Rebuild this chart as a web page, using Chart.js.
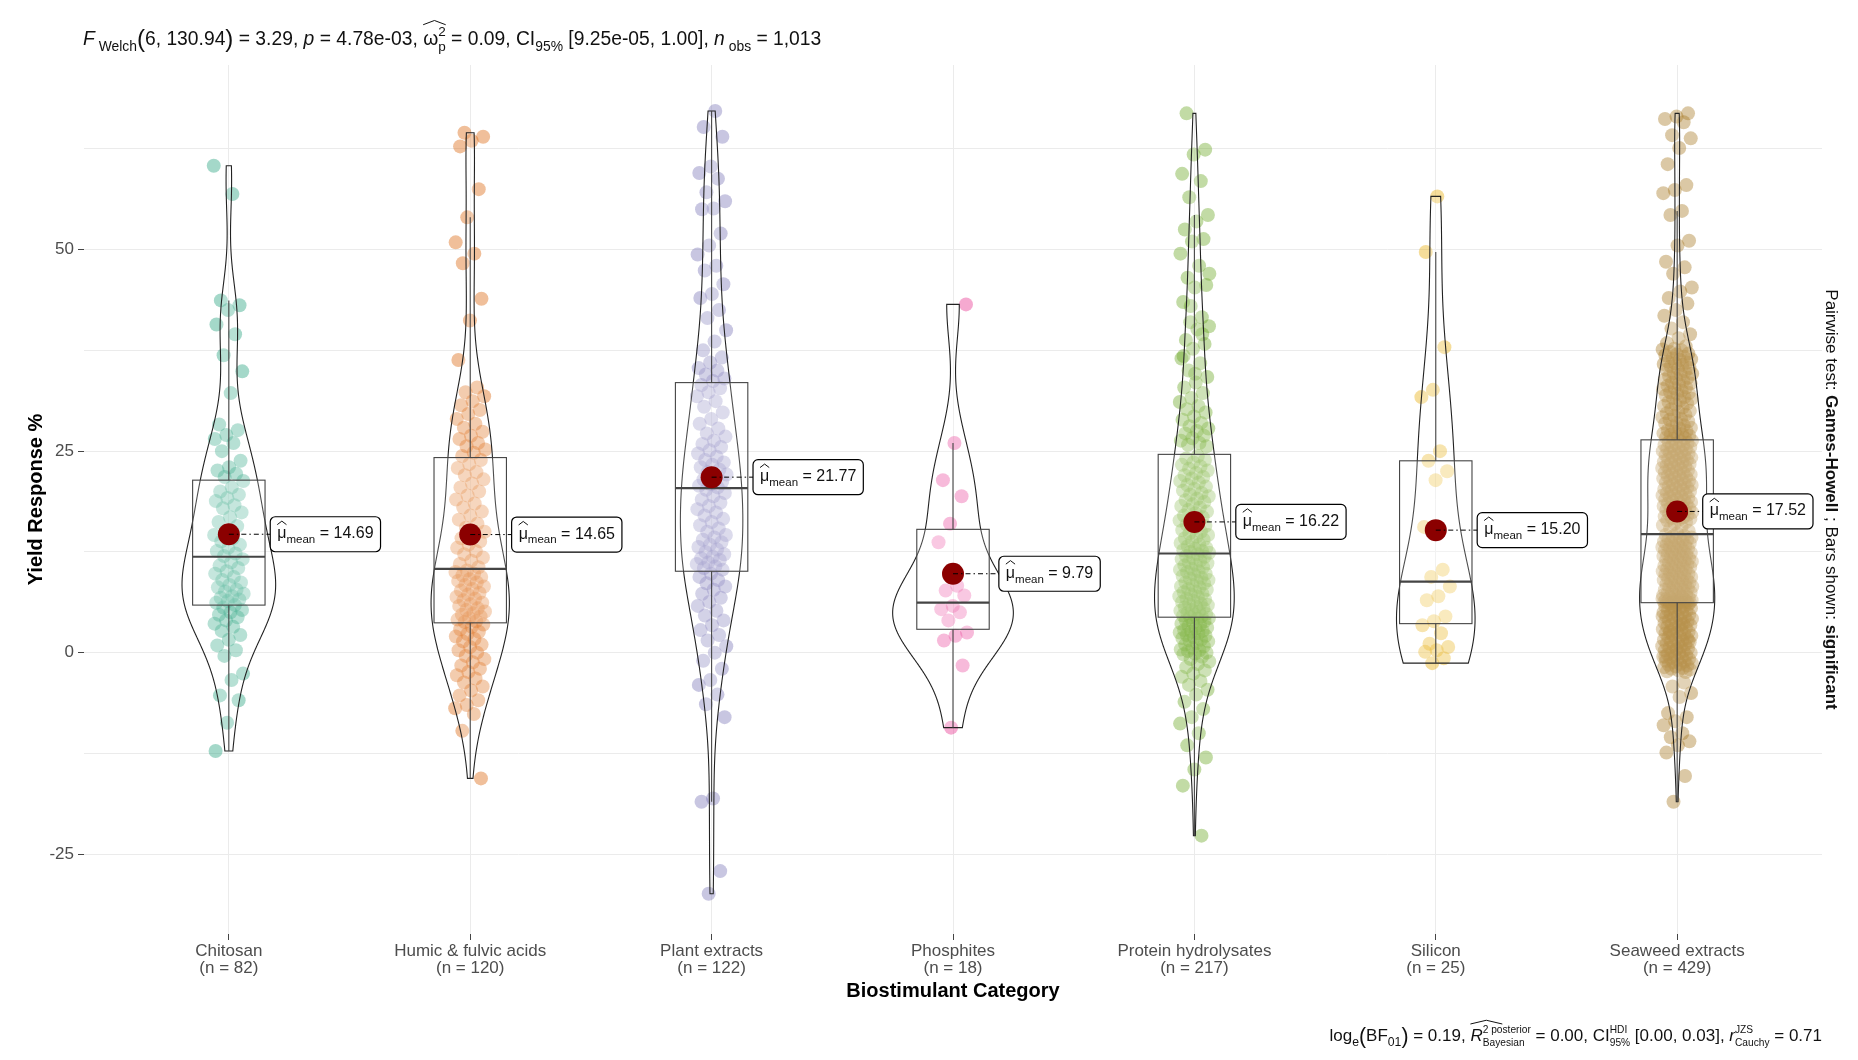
<!DOCTYPE html>
<html>
<head>
<meta charset="utf-8">
<script src="https://cdn.jsdelivr.net/npm/chart.js@4.4.1/dist/chart.umd.min.js"></script>
<style>
  html, body { margin: 0; background: #fff; }
  #wrap { width: 1858px; height: 1060px; }
</style>
</head>
<body>
<div id="wrap"><canvas id="chart" width="1858" height="1060"></canvas></div>
<script>
// categories and group sizes
const categories = ['Chitosan', 'Humic & fulvic acids', 'Plant extracts', 'Phosphites',
                    'Protein hydrolysates', 'Silicon', 'Seaweed extracts'];
const counts = [82, 120, 122, 18, 217, 25, 429];
const means = [14.69, 14.65, 21.77, 9.79, 16.22, 15.20, 17.52];

// box statistics
const q1s = [5.9, 3.7, 10.1, 2.9, 4.4, 3.6, 6.2];
const medians = [11.9, 10.4, 20.4, 6.2, 12.3, 8.8, 14.7];
const q3s = [21.4, 24.2, 33.5, 15.3, 24.6, 23.8, 26.4];
const whiskerLow = [-12.2, -15.6, -18.5, -9.3, -22.7, -1.3, -18.5];
const whiskerHigh = [43.7, 54.0, 67.2, 26.0, 54.3, 49.7, 54.8];

const yTicks = [-25, -12.5, 0, 12.5, 25, 37.5, 50, 62.5];

// observations per group (estimated from the jittered points)
const chitosan = [60.4, 56.9, 43.7, 43.1, 42.5, 40.7, 39.5, 36.9, 34.9, 32.2, 28.3, 27.6, 27.0, 26.5, 26.0, 25.0,
  23.8, 23.0, 22.6, 22.2, 21.8, 21.3, 20.5, 20.0, 19.6, 19.2, 18.8, 18.3, 17.9, 17.4, 16.8, 16.2, 15.7, 15.1,
  14.6, 14.2, 13.8, 13.4, 13.0, 12.6, 12.3, 12.0, 11.6, 11.2, 10.8, 10.5, 10.1, 9.8, 9.4, 9.0, 8.7, 8.4, 8.1,
  7.8, 7.6, 7.3, 7.0, 6.8, 6.6, 6.4, 6.2, 5.9, 5.6, 5.3, 5.0, 4.7, 4.4, 4.0, 3.6, 3.2, 2.7, 2.2, 1.6, 0.9, 0.3,
  -0.4, -2.6, -3.4, -5.3, -5.9, -8.7, -12.2];

const humic = [64.5, 64.0, 63.5, 62.8, 57.5, 54.0, 50.9, 49.5, 48.3, 43.9, 41.2, 36.3, 32.9, 32.3, 31.8, 31.2,
  30.7, 30.1, 29.6, 29.0, 28.4, 27.9, 27.4, 26.9, 26.5, 26.0, 25.6, 25.2, 24.8, 24.4,
  23.9, 23.4, 22.9, 22.4, 22.0, 21.5, 21.0, 20.5, 20.0, 19.5, 19.0, 18.5, 18.0, 17.5, 17.0, 16.5, 16.0, 15.5,
  15.0, 14.6, 14.2, 13.8, 13.4, 13.0, 12.6, 12.2, 11.8, 11.4, 11.0, 10.6,
  10.2, 10.0, 9.8, 9.6, 9.4, 9.1, 8.9, 8.7, 8.4, 8.2, 7.9, 7.7, 7.4, 7.2, 6.9, 6.7, 6.5, 6.2, 6.0, 5.8, 5.5,
  5.3, 5.1, 4.9, 4.7, 4.5, 4.3, 4.1, 3.9, 3.8,
  3.5, 3.2, 2.9, 2.6, 2.3, 2.0, 1.7, 1.4, 1.0, 0.7, 0.3, 0.0, -0.4, -0.8, -1.2, -1.6, -2.0, -2.4, -2.8, -3.2,
  -3.7, -4.2, -4.7, -5.3, -5.9, -6.5, -6.9, -7.6, -9.7, -15.6];

const plant = [67.2, 65.2, 64.0, 60.3, 59.5, 58.8, 57.1, 56.0, 55.1, 55.0, 52.0, 50.5, 49.4, 48.0, 47.4, 45.7,
  44.5, 44.0, 42.5, 41.5, 40.0, 38.6, 37.5, 36.6, 36.0, 35.3, 35.0, 34.5, 34.0, 33.7,
  33.2, 32.8, 32.3, 31.8, 31.2, 30.5, 29.8, 29.0, 28.4, 27.8, 27.2, 26.8, 26.3, 25.9, 25.5, 25.1, 24.7, 24.3,
  23.9, 23.6, 23.3, 23.0, 22.7, 22.4, 22.1, 21.8, 21.5, 21.2, 20.9, 20.7, 20.5,
  20.2, 19.8, 19.4, 19.0, 18.6, 18.2, 17.8, 17.4, 17.0, 16.6, 16.2, 15.8, 15.4, 15.0, 14.6, 14.3, 14.0, 13.7,
  13.4, 13.1, 12.8, 12.5, 12.2, 11.9, 11.7, 11.5, 11.2, 11.0, 10.7, 10.5, 10.3,
  9.8, 9.4, 9.0, 8.6, 8.2, 7.8, 7.3, 6.8, 6.3, 5.8, 5.2, 4.6, 4.0, 3.4, 2.8, 2.2, 1.5, 0.8, 0.0, -1.0, -2.0,
  -3.4, -4.0, -5.2, -6.4, -8.0, -18.1, -18.5, -27.1, -29.9];

const phosphites = [43.2, 26.0, 21.4, 19.4, 16.0, 13.7, 8.3, 7.7, 7.1, 5.8, 5.4, 5.0, 4.0, 2.5, 2.1, 1.5, -1.6, -9.3];

const protein = [66.9, 62.4, 61.8, 59.4, 58.5, 56.5, 54.3, 53.5, 52.5, 51.3, 51.0, 49.5, 48.0, 46.5, 45.6, 45.3,
  43.5, 41.6, 41.0, 40.5, 40.1, 38.8, 38.3, 37.7, 36.5, 35.9, 35.0, 34.2, 33.5, 32.9, 32.2, 31.6, 31.1, 30.6,
  30.2, 29.8, 29.3, 28.9, 28.5, 28.1, 27.8, 27.5, 27.2, 26.9, 26.6, 26.3, 26.0, 25.8, 25.6, 34.6, 36.8, 39.5,
  43.0, 47.0,
  24.4, 24.1, 23.9, 23.6, 23.3, 23.1, 22.8, 22.6, 22.3, 22.0, 21.8, 21.6, 21.3, 21.1, 20.8, 20.6, 20.3, 20.1,
  19.8, 19.6, 19.4, 19.1, 18.9, 18.7, 18.4, 18.2, 18.0, 17.7, 17.5, 17.3, 17.0, 16.8, 16.6, 16.4, 16.1, 15.9,
  15.7, 15.5, 15.2, 15.0, 14.8, 14.6, 14.4, 14.2, 14.0, 13.8, 13.6, 13.4, 13.2, 13.0, 12.9, 12.7, 12.6, 12.5, 12.4,
  12.2, 12.0, 11.9, 11.7, 11.6, 11.4, 11.2, 11.1, 10.9, 10.8, 10.6, 10.4, 10.3, 10.1, 10.0, 9.8, 9.7, 9.5,
  9.3, 9.2, 9.0, 8.9, 8.7, 8.6, 8.4, 8.2, 8.1, 7.9, 7.8, 7.6, 7.5, 7.3, 7.2, 7.0, 6.9, 6.7, 6.6, 6.4, 6.3, 6.1,
  6.0, 5.9, 5.7, 5.6, 5.5, 5.3, 5.2, 5.1, 4.9, 4.8, 4.7, 4.6, 4.5, 4.4,
  4.3, 4.2, 4.0, 3.9, 3.7, 3.6, 3.4, 3.3, 3.1, 3.0, 2.8, 2.7, 2.6, 2.5, 2.4, 2.2, 2.1, 1.9, 1.8, 1.6, 1.5,
  1.4, 1.2, 1.0, 0.8, 0.6, 0.4, 0.3, 0.2, 0.0, -0.1, -0.2, -0.5, -0.8, -1.1, -1.4, -1.8, -2.2, -2.6, -3.0,
  -3.5, -4.0, -4.6, -5.2, -6.1, -7.0, -8.0, -8.8, -10.0, -11.5, -13.0, -14.5, -16.5, -22.7];

const silicon = [56.6, 49.7, 37.9, 32.6, 31.7, 25.0, 23.8, 22.5, 21.4, 15.6, 10.3, 9.4, 8.2, 7.0, 6.5, 4.5, 3.9,
  3.4, 2.4, 1.1, 0.7, 0.3, 0.1, -0.7, -1.3];

const seaweed = [66.9, 66.5, 66.2, 65.8, 64.2, 63.8, 62.6, 60.6, 58.0, 57.4, 57.0, 54.8, 54.3, 51.1, 50.5, 48.5,
  47.8, 47.0, 45.3, 44.8, 44.0, 43.3, 42.5, 41.8, 41.0, 40.2, 39.5, 39.0, 38.4, 38.0,
  37.7, 37.6, 37.5, 37.3, 37.1, 37.0, 36.9, 36.7, 36.5, 36.4, 36.3, 36.1, 36.0, 35.9, 35.8, 35.7, 35.5, 35.3,
  35.2, 35.1, 34.9, 34.7, 34.6, 34.5, 34.3, 34.1, 34.0, 33.9, 33.7, 33.5, 33.4, 33.3, 33.1, 32.9, 32.8, 32.7,
  32.5, 32.3, 32.2, 32.1, 31.9, 31.7, 31.6, 31.5, 31.3, 31.1, 30.9, 30.8, 30.6, 30.4, 30.2, 30.0, 29.9, 29.7,
  29.5, 29.4, 29.2, 29.0, 28.9, 28.7, 28.5, 28.4, 28.2, 28.1, 27.9, 27.8, 27.6, 27.5, 27.4, 27.2, 27.1, 27.0,
  26.9, 26.8, 26.7, 26.6, 26.5,
  26.3, 26.2, 26.1, 26.0, 25.9, 25.8, 25.7, 25.6, 25.5, 25.4, 25.3, 25.2, 25.1, 25.0, 24.9, 24.8, 24.7, 24.6,
  24.5, 24.4, 24.3, 24.2, 24.1, 24.0, 23.9, 23.8, 23.7, 23.6, 23.5, 23.4, 23.3, 23.2, 23.1, 23.0, 22.9, 22.8,
  22.7, 22.6, 22.5, 22.4, 22.3, 22.2, 22.1, 22.0, 21.9, 21.8, 21.7, 21.6, 21.5, 21.4, 21.3, 21.2, 21.1, 21.0,
  20.9, 20.8, 20.7, 20.6, 20.5, 20.4, 20.3, 20.2, 20.1, 20.0, 19.9, 19.8, 19.7, 19.6, 19.5, 19.4, 19.3, 19.2,
  19.1, 19.0, 18.9, 18.8, 18.7, 18.6, 18.5, 18.4, 18.3, 18.2, 18.1, 18.0, 17.9, 17.8, 17.7, 17.6, 17.5, 17.4,
  17.3, 17.2, 17.1, 17.0, 16.9, 16.8, 16.7, 16.6, 16.5, 16.4, 16.2, 16.0, 15.8, 15.6, 15.4, 15.1, 14.8,
  14.6, 14.5, 14.4, 14.3, 14.2, 14.1, 14.0, 13.9, 13.8, 13.8, 13.7, 13.6, 13.5, 13.4, 13.3, 13.2, 13.1, 13.0,
  13.0, 12.9, 12.8, 12.7, 12.6, 12.5, 12.4, 12.3, 12.2, 12.2, 12.1, 12.0, 11.9, 11.8, 11.7, 11.6, 11.5, 11.4,
  11.4, 11.3, 11.2, 11.1, 11.0, 10.9, 10.8, 10.7, 10.6, 10.6, 10.5, 10.4, 10.3, 10.2, 10.1, 10.0, 9.9, 9.8,
  9.8, 9.7, 9.6, 9.5, 9.4, 9.3, 9.2, 9.1, 9.0, 9.0, 8.9, 8.8, 8.7, 8.6, 8.5, 8.4, 8.3, 8.2, 8.2, 8.1, 8.0,
  7.9, 7.8, 7.7, 7.6, 7.5, 7.4, 7.4, 7.3, 7.2, 7.1, 7.0, 6.9, 6.8, 6.7, 6.6, 6.6, 6.5, 6.5, 6.4, 6.4, 6.3,
  6.3, 6.3, 6.2, 6.2, 6.2, 6.2, 6.3, 6.4, 6.5, 6.7, 6.9,
  6.1, 6.0, 5.9, 5.8, 5.7, 5.6, 5.5, 5.4, 5.3, 5.2, 5.1, 5.0, 4.9, 4.8, 4.7, 4.6, 4.5, 4.4, 4.3, 4.2, 4.1,
  4.0, 3.9, 3.8, 3.7, 3.6, 3.5, 3.4, 3.3, 3.2, 3.1, 3.0, 2.9, 2.8, 2.7, 2.6, 2.5, 2.4, 2.3, 2.2, 2.1, 2.0,
  1.9, 1.8, 1.7, 1.6, 1.5, 1.4, 1.3, 1.2, 1.1, 1.0, 0.9, 0.8, 0.7, 0.6, 0.5, 0.4, 0.3, 0.2, 0.1, 0.0, -0.1,
  -0.2, -0.3, -0.4, -0.5, -0.6, -0.7, -0.8, -0.9, -1.0, -1.1, -1.2, -1.3, -1.4, -1.5, -1.6, -1.7, -1.8, -1.9,
  -2.0, -2.1, -2.2, -2.3, -2.4, 5.5, 4.5, 3.5, 2.5, 1.5, 0.5, -0.5,
  -3.7, -4.2, -5.0, -5.5, -7.5, -8.0, -8.5, -9.0, -10.0, -10.5, -11.0, -11.5, -12.4, -15.3, -18.5];

const groups = [chitosan, humic, plant, phosphites, protein, silicon, seaweed];
const colors = ['27,158,119', '217,95,2', '117,112,179', '231,41,138', '102,166,30', '230,171,2', '166,118,29'];

const FAM = "'Liberation Sans', Arial, sans-serif";

// ---------- helpers ----------
function quantile(sorted, p) {
    const h = (sorted.length - 1) * p;
    const lo = Math.floor(h);
    const hi = Math.min(lo + 1, sorted.length - 1);
    return sorted[lo] + (h - lo) * (sorted[hi] - sorted[lo]);
}

// R's bw.nrd0
function bandwidth(vals) {
    const s = [...vals].sort((a, b) => a - b);
    const n = s.length;
    const m = s.reduce((a, b) => a + b, 0) / n;
    const sd = Math.sqrt(s.reduce((a, b) => a + (b - m) ** 2, 0) / (n - 1));
    const iqr = quantile(s, 0.75) - quantile(s, 0.25);
    let lo = Math.min(sd, iqr / 1.34);
    if (!lo) lo = sd;
    return 0.9 * lo * Math.pow(n, -0.2);
}

// gaussian kernel density, trimmed to the data range
function densityCurve(vals) {
    const bw = bandwidth(vals);
    const min = Math.min(...vals), max = Math.max(...vals);
    const out = [];
    for (let i = 0; i < 512; i++) {
        const y = min + (max - min) * i / 511;
        let d = 0;
        for (const v of vals) {
            const z = (y - v) / bw;
            d += Math.exp(-0.5 * z * z);
        }
        out.push({ y, d: d / (vals.length * bw * Math.sqrt(2 * Math.PI)) });
    }
    return out;
}

const curves = groups.map(densityCurve);
const maxDensity = Math.max(...curves.map(c => Math.max(...c.map(p => p.d))));

// draws text runs with italics / sub- and superscripts / hats
function runParts(ctx, parts, x, y, size, draw) {
    let w = 0;
    for (const p of parts) {
        if (p.hat) {
            const iw = runParts(ctx, p.hat, x + w, y, size, draw);
            if (draw) {
                const span = iw * (p.wide || 1);
                const yb = y - size * p.h;
                ctx.beginPath();
                ctx.moveTo(x + w, yb);
                ctx.lineTo(x + w + span / 2, yb - size * 0.22);
                ctx.lineTo(x + w + span, yb);
                ctx.lineWidth = 1;
                ctx.strokeStyle = ctx.fillStyle;
                ctx.stroke();
            }
            w += iw;
            continue;
        }
        if (p.stack) {
            const s = size * (p.k || 0.7);
            ctx.font = s + 'px ' + FAM;
            const w1 = ctx.measureText(p.stack[0]).width;
            const w2 = ctx.measureText(p.stack[1]).width;
            if (draw) {
                ctx.fillText(p.stack[0], x + w, y - size * 0.45);
                ctx.fillText(p.stack[1], x + w, y + size * 0.32);
            }
            w += Math.max(w1, w2);
            continue;
        }
        let s = size, dy = 0;
        if (p.sub) { s = size * 0.72; dy = size * 0.3; }
        if (p.sup) { s = size * 0.72; dy = -size * 0.42; }
        if (p.big) { s = size * 1.25; dy = size * 0.1; }
        ctx.font = (p.it ? 'italic ' : '') + (p.b ? 'bold ' : '') + s + 'px ' + FAM;
        if (draw) ctx.fillText(p.t, x + w, y + dy);
        w += ctx.measureText(p.t).width;
    }
    return w;
}

const subtitleParts = [
    { t: 'F', it: 1 }, { t: ' Welch', sub: 1 }, { t: '(', big: 1 }, { t: '6, 130.94' }, { t: ')', big: 1 },
    { t: ' = 3.29, ' }, { t: 'p', it: 1 }, { t: ' = 4.78e-03, ' },
    { hat: [{ t: 'ω' }, { stack: ['2', 'p'] }], h: 1.05 },
    { t: ' = 0.09, CI' }, { t: '95%', sub: 1 }, { t: ' [9.25e-05, 1.00], ' },
    { t: 'n', it: 1 }, { t: ' obs', sub: 1 }, { t: ' = 1,013' }
];

const captionParts = [
    { t: 'log' }, { t: 'e', sub: 1 }, { t: '(', big: 1 }, { t: 'BF' }, { t: '01', sub: 1 }, { t: ')', big: 1 },
    { t: ' = 0.19, ' }, { hat: [{ t: 'R', it: 1 }], h: 1.0, wide: 2.6 },
    { stack: ['2 posterior', 'Bayesian'], k: 0.6 }, { t: ' = 0.00, CI' }, { stack: ['HDI', '95%'], k: 0.6 },
    { t: ' [0.00, 0.03], ' }, { t: 'r', it: 1 }, { stack: ['JZS', 'Cauchy'], k: 0.6 }, { t: ' = 0.71' }
];

const sideParts = [
    { t: 'Pairwise test: ' }, { t: 'Games-Howell', b: 1 }, { t: ' ; ' }, { t: 'Bars shown: ' }, { t: 'significant', b: 1 }
];

// ---------- plugin for violins, boxes, labels and extra texts ----------
const statsLayer = {
    id: 'statsLayer',
    beforeDatasetDraw(chart, args) {
        if (args.index !== groups.length) return;
        const { ctx, scales: { x, y } } = chart;
        ctx.save();
        groups.forEach((vals, i) => {
            const c = i + 1;
            // violin
            const curve = curves[i];
            ctx.beginPath();
            curve.forEach((p, k) => {
                const px = x.getPixelForValue(c + 0.25 * p.d / maxDensity);
                const py = y.getPixelForValue(p.y);
                k === 0 ? ctx.moveTo(px, py) : ctx.lineTo(px, py);
            });
            for (let k = curve.length - 1; k >= 0; k--) {
                const p = curve[k];
                ctx.lineTo(x.getPixelForValue(c - 0.25 * p.d / maxDensity), y.getPixelForValue(p.y));
            }
            ctx.closePath();
            ctx.fillStyle = 'rgba(255,255,255,0.2)';
            ctx.fill();
            ctx.strokeStyle = '#222';
            ctx.lineWidth = 1.1;
            ctx.stroke();

            // box + whiskers
            const xl = x.getPixelForValue(c - 0.15), xr = x.getPixelForValue(c + 0.15), xc = x.getPixelForValue(c);
            const yq1 = y.getPixelForValue(q1s[i]), yq3 = y.getPixelForValue(q3s[i]);
            ctx.strokeStyle = '#444';
            ctx.lineWidth = 1.1;
            ctx.beginPath();
            ctx.moveTo(xc, yq3); ctx.lineTo(xc, y.getPixelForValue(whiskerHigh[i]));
            ctx.moveTo(xc, yq1); ctx.lineTo(xc, y.getPixelForValue(whiskerLow[i]));
            ctx.stroke();
            ctx.fillStyle = 'rgba(255,255,255,0.2)';
            ctx.fillRect(xl, yq3, xr - xl, yq1 - yq3);
            ctx.strokeRect(xl, yq3, xr - xl, yq1 - yq3);
            ctx.lineWidth = 2.2;
            ctx.beginPath();
            ctx.moveTo(xl, y.getPixelForValue(medians[i]));
            ctx.lineTo(xr, y.getPixelForValue(medians[i]));
            ctx.stroke();
        });
        ctx.restore();
    },
    afterDatasetsDraw(chart) {
        const { ctx, scales: { x, y }, chartArea } = chart;
        ctx.save();
        ctx.textAlign = 'left';
        ctx.textBaseline = 'alphabetic';
        means.forEach((m, i) => {
            const parts = [{ hat: [{ t: 'μ' }], h: 0.85 }, { t: 'mean', sub: 1 }, { t: ' = ' + m.toFixed(2) }];
            const size = 16;
            ctx.fillStyle = '#111';
            const tw = runParts(ctx, parts, 0, 0, size, false);
            const bw = tw + 14, bh = 35;
            let bx = x.getPixelForValue(i + 1.4) - bw / 2;
            if (bx + bw > chartArea.right - 9) bx = chartArea.right - 9 - bw;
            const py = y.getPixelForValue(m);
            const px = x.getPixelForValue(i + 1);
            // leader
            ctx.strokeStyle = '#000';
            ctx.lineWidth = 1;
            ctx.setLineDash([5, 3, 1.5, 3]);
            ctx.beginPath();
            ctx.moveTo(px, py);
            ctx.lineTo(bx, py);
            ctx.stroke();
            ctx.setLineDash([]);
            // box
            ctx.beginPath();
            ctx.roundRect(bx, py - bh / 2, bw, bh, 5);
            ctx.fillStyle = '#fff';
            ctx.fill();
            ctx.strokeStyle = '#000';
            ctx.lineWidth = 1.2;
            ctx.stroke();
            ctx.fillStyle = '#111';
            runParts(ctx, parts, bx + 7, py + 4, size, true);
        });

        // subtitle
        ctx.fillStyle = '#111';
        runParts(ctx, subtitleParts, 83, 45, 19.3, true);

        // caption (right aligned to panel)
        const cw = runParts(ctx, captionParts, 0, 0, 17, false);
        runParts(ctx, captionParts, chartArea.right - cw, 1041, 17, true);

        // right-hand rotated note
        ctx.save();
        ctx.translate(1832, (chartArea.top + chartArea.bottom) / 2);
        ctx.rotate(Math.PI / 2);
        const sw = runParts(ctx, sideParts, 0, 0, 17, false);
        runParts(ctx, sideParts, -sw / 2, 6, 17, true);
        ctx.restore();
        ctx.restore();
    }
};

// ---------- datasets ----------
const datasets = groups.map((vals, i) => ({
    label: categories[i],
    order: 1,
    // horizontal spread of points only (jitter), values are the y's
    data: vals.map((v, k) => ({ x: i + 1 + (((k * 0.6180339887 + i * 0.31) % 1) - 0.5) * 0.125, y: v })),
    pointRadius: 7,
    pointBackgroundColor: `rgba(${colors[i]},0.4)`,
    pointBorderWidth: 0,
    pointHoverRadius: 7
}));
datasets.push({
    label: 'mean',
    order: 0,
    data: means.map((m, i) => ({ x: i + 1, y: m })),
    pointRadius: 11,
    pointBackgroundColor: '#8B0000',
    pointBorderWidth: 0
});

new Chart(document.getElementById('chart'), {
    type: 'scatter',
    data: { datasets },
    options: {
        responsive: false,
        animation: false,
        devicePixelRatio: 1,
        layout: { padding: { left: 0, right: 36, top: 65, bottom: 55 } },
        plugins: {
            legend: { display: false },
            tooltip: { enabled: false }
        },
        scales: {
            x: {
                type: 'linear',
                min: 0.4,
                max: 7.6,
                afterFit: (scale) => { scale.height = 71; },
                afterBuildTicks: (scale) => { scale.ticks = categories.map((_, i) => ({ value: i + 1 })); },
                border: { display: false },
                grid: { color: '#ebebeb', lineWidth: 1, tickLength: 6, tickColor: '#444' },
                ticks: {
                    autoSkip: false,
                    maxRotation: 0,
                    padding: 3,
                    color: '#4d4d4d',
                    font: { family: FAM, size: 17, lineHeight: 1.0 },
                    callback: (v) => {
                        const i = Math.round(v) - 1;
                        return [categories[i], '(n = ' + counts[i] + ')'];
                    }
                },
                title: {
                    display: true,
                    text: 'Biostimulant Category',
                    color: '#000',
                    font: { family: FAM, size: 20, weight: 'bold', lineHeight: 1.2 },
                    padding: { top: 0, bottom: 2 }
                }
            },
            y: {
                min: -34.9,
                max: 72.9,
                afterFit: (scale) => { scale.width = 84; },
                afterBuildTicks: (scale) => { scale.ticks = yTicks.map(v => ({ value: v })); },
                border: { display: false },
                grid: {
                    color: '#ebebeb',
                    lineWidth: 1,
                    tickLength: 6,
                    tickColor: (c) => (c.tick && c.tick.value % 25 === 0 ? '#444' : 'rgba(0,0,0,0)')
                },
                ticks: {
                    padding: 4,
                    color: '#4d4d4d',
                    font: { family: FAM, size: 17 },
                    callback: (v) => (v % 25 === 0 ? String(v) : '')
                },
                title: {
                    display: true,
                    text: 'Yield Response %',
                    color: '#000',
                    font: { family: FAM, size: 20, weight: 'bold', lineHeight: 1.2 },
                    padding: { top: 24, bottom: 0 }
                }
            }
        }
    },
    plugins: [statsLayer]
});
</script>
</body>
</html>
